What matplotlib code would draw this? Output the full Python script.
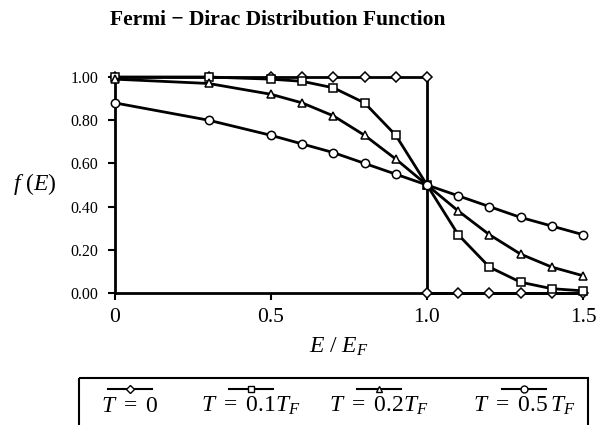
import matplotlib
matplotlib.use('Agg')
import matplotlib.pyplot as plt
from matplotlib.patches import Rectangle

plt.rcParams['font.family'] = ['Liberation Serif', 'DejaVu Serif']
plt.rcParams['mathtext.fontset'] = 'custom'
plt.rcParams['mathtext.rm'] = 'Liberation Serif'
plt.rcParams['mathtext.it'] = 'Liberation Serif:italic'

# E / E_F sample points
energy = [0.0, 0.3, 0.5, 0.6, 0.7, 0.8, 0.9, 1.0, 1.1, 1.2, 1.3, 1.4, 1.5]
energy_t0 = [0.0, 0.3, 0.5, 0.6, 0.7, 0.8, 0.9, 1.0, 1.0, 1.1, 1.2, 1.3, 1.4, 1.5]

f_t0 = [1.00, 1.00, 1.00, 1.00, 1.00, 1.00, 1.00, 1.00, 0.00, 0.00, 0.00, 0.00, 0.00, 0.00]
f_t01 = [1.00, 1.00, 0.99, 0.98, 0.95, 0.88, 0.73, 0.50, 0.27, 0.12, 0.05, 0.02, 0.01]
f_t02 = [0.99, 0.97, 0.92, 0.88, 0.82, 0.73, 0.62, 0.50, 0.38, 0.27, 0.18, 0.12, 0.08]
f_t05 = [0.88, 0.80, 0.73, 0.69, 0.65, 0.60, 0.55, 0.50, 0.45, 0.40, 0.35, 0.31, 0.27]

series = [
    (energy_t0, f_t0, 'D', r'$T\ =\ 0$'),
    (energy, f_t01, 's', r'$T\ =\ 0.1T_F$'),
    (energy, f_t02, '^', r'$T\ =\ 0.2T_F$'),
    (energy, f_t05, 'o', r'$T\ =\ 0.5\,T_F$'),
]
msizes = {'D': 5, 's': 5.2, '^': 5.8, 'o': 6}

W, H = 597, 425
fig = plt.figure(figsize=(W / 100, H / 100), dpi=100)
ax = fig.add_axes([115 / W, 1 - 293 / H, (583 - 115) / W, (293 - 77) / H])

for x, y, m, lab in series:
    ax.plot(x, y, color='black', lw=2, marker=m, ms=msizes[m],
            mfc='white', mec='black', mew=1.1, clip_on=False, zorder=3)

ax.set_xlim(0, 1.5)
ax.set_ylim(0, 1.0)
ax.set_xticks([0, 0.5, 1.0, 1.5])
ax.set_xticklabels(['0', '0.5', '1.0', '1.5'], fontsize=15.5)
ax.set_yticks([0, 0.2, 0.4, 0.6, 0.8, 1.0])
ax.set_yticklabels(['%.2f' % v for v in [0, 0.2, 0.4, 0.6, 0.8, 1.0]], fontsize=11.5)
ax.tick_params(axis='both', direction='out', length=5, width=1.5, color='black')
ax.tick_params(axis='x', pad=6)
ax.tick_params(axis='y', pad=7)
for s in ['top', 'right']:
    ax.spines[s].set_visible(False)
for s in ['left', 'bottom']:
    ax.spines[s].set_linewidth(2)

fig.text(278 / W, 1 - 20 / H, 'Fermi \u2212 Dirac Distribution Function',
         ha='center', va='center', fontsize=15.5, fontweight='bold')
fig.text(35 / W, 1 - 184 / H, r'$f\ (E)$', ha='center', va='center', fontsize=17)
fig.text(339 / W, 1 - 347 / H, r'$E\ /\ E_F$', ha='center', va='center', fontsize=17)

# legend drawn below the chart, samples above labels
lax = fig.add_axes([0, 0, 1, 1])
lax.set_xlim(0, W)
lax.set_ylim(H, 0)
lax.axis('off')
lax.add_patch(Rectangle((79, 378), 509, 60, fill=False, lw=1.5, ec='black', clip_on=False))
centers = [130, 251, 379, 524]
for (x, y, m, lab), cx in zip(series, centers):
    lax.plot([cx - 22, cx + 22], [389, 389], color='black', lw=1.5)
    lax.plot([cx], [389], marker=m, ms=msizes[m] - 1, mfc='white', mec='black', mew=1)
    lax.text(cx, 406, lab, ha='center', va='center', fontsize=17)

fig.savefig('out.png', dpi=100)
